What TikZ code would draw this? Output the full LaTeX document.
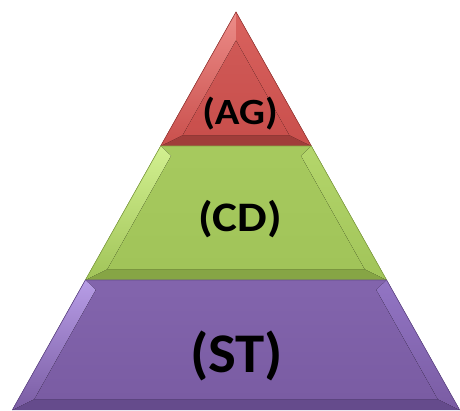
\documentclass[tikz,border=0pt]{standalone}
\usepackage{fontspec}
\setmainfont{Carlito}

% layer colours
\definecolor{faceag}{HTML}{C94F4C}
\definecolor{darkag}{HTML}{A03D3A}
\definecolor{leftag}{HTML}{EC8C88}
\definecolor{rightag}{HTML}{D9625E}
\definecolor{topag}{HTML}{CF5956}
\definecolor{facecd}{HTML}{A1C459}
\definecolor{darkcd}{HTML}{86A545}
\definecolor{leftcd}{HTML}{D2F090}
\definecolor{rightcd}{HTML}{B4D66B}
\definecolor{topcd}{HTML}{A6C95E}
\definecolor{facest}{HTML}{7A5CA3}
\definecolor{darkst}{HTML}{654B8C}
\definecolor{leftst}{HTML}{B79DE6}
\definecolor{rightst}{HTML}{9275C4}
\definecolor{topst}{HTML}{8264AC}

\tikzset{
  label/.style={inner sep=0pt,font=\bfseries},
}

\begin{document}
\begin{tikzpicture}[x=1pt,y=-1pt]
  \useasboundingbox (0,0) rectangle (460,410);

  \foreach \lay/\yt/\yb in {ag/12/146, cd/146/280, st/280/410}{
    \pgfmathsetmacro\outT{(\yt-12)*0.562}
    \pgfmathsetmacro\outB{(\yb-12)*0.562}
    \pgfmathsetmacro\yiT{max(\yt+10,40.5)}
    \pgfmathsetmacro\yiB{\yb-11}
    \pgfmathsetmacro\inT{max((\yiT-12)*0.562-16,0)}
    \pgfmathsetmacro\inB{(\yiB-12)*0.562-16}
    % bevel bands
    \fill [dark\lay] (236-\outB,\yb) -- (236-\outT,\yt) -- (236+\outT,\yt) -- (236+\outB,\yb) -- cycle;
    \fill [top\lay] (236-\outT,\yt) -- (236+\outT,\yt) -- (236+\inT,\yiT) -- (236-\inT,\yiT) -- cycle;
    \fill [top color=left\lay,bottom color=face\lay] (236-\outT,\yt) -- (236-\inT,\yiT) -- (236-\inB,\yiB) -- (236-\outB,\yb) -- cycle;
    \fill [top color=right\lay,bottom color=face\lay] (236+\outT,\yt) -- (236+\outB,\yb) -- (236+\inB,\yiB) -- (236+\inT,\yiT) -- cycle;
    % face
    \fill [top color=top\lay,bottom color=face\lay] (236-\inT,\yiT) -- (236+\inT,\yiT) -- (236+\inB,\yiB) -- (236-\inB,\yiB) -- cycle;
    \draw [dark\lay,line width=0.6pt] (236-\outB,\yb) -- (236-\outT,\yt) -- (236+\outT,\yt) -- (236+\outB,\yb);
  }

  \node [label,xscale=1.1] (ag) at (240,114) {\fontsize{37}{37}\selectfont (AG)};
  \node [label,xscale=1.12] (cd) at (240,219.5) {\fontsize{42}{42}\selectfont (CD)};
  \node [label,xscale=1.05] (st) at (236.5,356) {\fontsize{56}{56}\selectfont (ST)};
\end{tikzpicture}
\end{document}
